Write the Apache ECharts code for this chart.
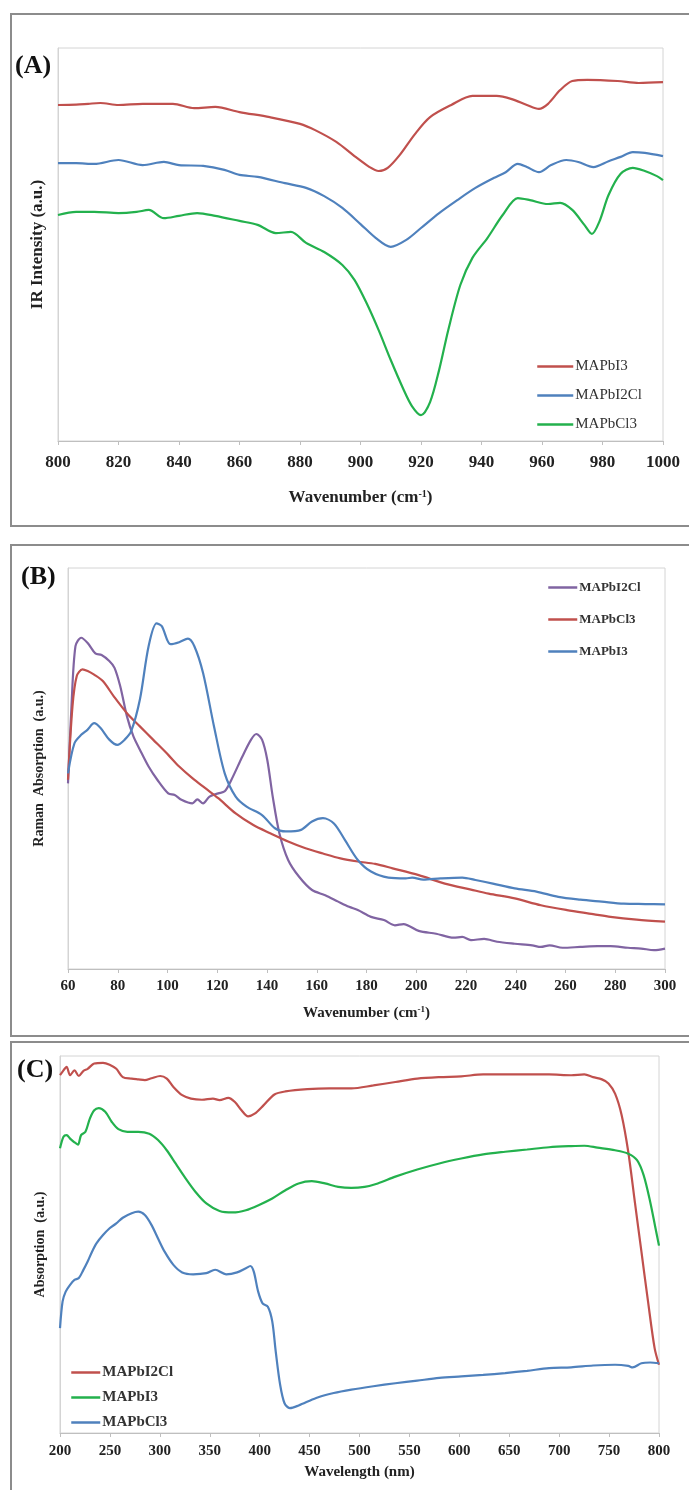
<!DOCTYPE html>
<html>
<head>
<meta charset="utf-8">
<script src="https://cdn.jsdelivr.net/npm/echarts@6/dist/echarts.min.js"></script>
<style>
  html, body { margin: 0; padding: 0; background: #fff; }
  #page { position: relative; width: 689px; height: 1490px; overflow: hidden; }
  .panel { position: absolute; left: 0; width: 689px; }
</style>
</head>
<body>
<div id="page">
  <div id="panelA" class="panel" style="top:0;height:530px"></div>
  <div id="panelB" class="panel" style="top:530px;height:510px"></div>
  <div id="panelC" class="panel" style="top:1040px;height:450px"></div>
</div>
<script>
// ---------- (A) IR spectra: [wavenumber cm-1, intensity a.u.] ----------
const irMAPbI3 = [
  [800,85.5],[806,85.6],[810,85.8],[814,86.0],[820,85.5],[828,85.8],[838,85.8],[845,84.7],
  [852,85.0],[860,83.7],[870,82.4],[880,80.7],[885,79.1],[892,76.1],[898,72.5],[903,69.7],
  [906,68.7],[909,69.5],[913,72.8],[918,78.1],[923,82.4],[930,85.5],[937,87.8],[945,87.8],
  [950,87.0],[955,85.5],[959,84.5],[962,85.8],[966,89.3],[970,91.6],[975,91.9],[985,91.6],
  [992,91.1],[1000,91.3]
];
const irMAPbI2Cl = [
  [800,70.7],[806,70.7],[812,70.5],[820,71.5],[828,70.2],[835,71.0],[840,70.2],[848,70.0],
  [855,69.0],[860,67.7],[866,67.2],[875,65.6],[882,64.4],[888,62.3],[894,59.3],[900,55.2],
  [905,51.7],[910,49.4],[915,51.1],[920,54.2],[926,58.0],[932,61.3],[938,64.4],[944,66.9],
  [948,68.4],[952,70.5],[955,69.7],[959,68.4],[963,70.2],[968,71.5],[972,71.0],[977,69.7],
  [982,71.2],[986,72.3],[990,73.5],[994,73.3],[1000,72.5]
];
const irMAPbCl3 = [
  [800,57.5],[806,58.3],[812,58.3],[820,58.0],[826,58.3],[830,58.8],[835,56.7],[840,57.3],
  [846,58.0],[852,57.3],[860,56.0],[866,55.0],[872,52.9],[877,53.2],[882,50.4],[888,48.1],
  [894,44.8],[898,41.0],[902,35.1],[906,28.2],[910,20.6],[914,13.5],[917,8.9],[920,6.6],
  [923,9.9],[926,18.1],[929,28.2],[933,39.7],[937,46.6],[942,51.7],[947,57.5],[952,61.8],
  [956,61.3],[962,60.3],[966,60.6],[970,58.8],[974,55.0],[976.5,52.7],[979,55.9],[982,62.6],
  [986,68.0],[990,69.5],[994,68.7],[998,67.4],[1000,66.4]
];

// ---------- (B) Raman spectra: [wavenumber cm-1, absorption a.u.] ----------
const ramanMAPbI2Cl = [
  [60,46.3],[61.4,65.5],[63,80.5],[65.3,82.6],[67.9,81.3],[71,78.7],[73.5,78.3],[76.6,76.8],
  [78.7,75.1],[81,70.5],[83.7,63.0],[86.3,58.0],[88.9,54.7],[92.4,50.5],[95.9,47.2],[100.3,43.8],
  [102.9,43.4],[105.6,42.2],[110,41.3],[112,42.3],[114.3,41.3],[116.9,43.0],[120.4,43.8],[123,44.3],
  [125.7,47.2],[130.1,53.0],[133.6,57.2],[135.7,58.6],[138,57.2],[140.1,52.2],[142.3,43.0],[145,33.8],
  [148.5,27.2],[152.9,23.0],[158.1,19.7],[163.4,18.4],[168.6,16.8],[173,15.5],[176.5,14.7],[181.8,13.0],
  [187,12.2],[191.4,10.9],[194.9,11.2],[201,9.5],[208,8.8],[215,7.8],[218.5,8.0],[222,7.2],
  [227.3,7.5],[232.5,6.8],[239.6,6.3],[246.6,5.9],[250.1,5.5],[253.6,5.9],[258.8,5.3],[265.9,5.5],
  [272.9,5.7],[278.1,5.7],[285.1,5.3],[290.4,5.1],[295.6,4.7],[300,5.1]
];
const ramanMAPbCl3 = [
  [60,47.2],[61.8,65.5],[63.5,73.0],[65.8,74.7],[67.9,74.3],[70.5,73.4],[74,71.8],[78.4,68.0],
  [83.7,63.8],[88.9,60.5],[94.2,57.2],[100.3,53.4],[104.7,50.5],[110,47.6],[115.2,45.1],[120.4,42.6],
  [127.4,38.8],[134.5,35.9],[141.5,33.8],[148.5,31.8],[155.5,30.1],[162.5,28.8],[169.5,27.6],[176.5,26.8],
  [183.5,26.2],[190.5,25.1],[201,23.4],[211.5,21.3],[222,19.8],[229.1,18.8],[239.6,17.6],[250.1,15.9],
  [260.6,14.7],[271.1,13.7],[278.1,13.0],[288.6,12.3],[300,11.8]
];
const ramanMAPbI3 = [
  [60,48.8],[62.6,56.3],[65.3,58.4],[67.9,59.7],[70.5,61.3],[73.1,60.1],[76.6,57.2],[79.8,55.9],
  [82.8,57.2],[85.4,59.3],[88.9,67.2],[92.4,80.5],[95.6,86.2],[97.7,85.5],[101.2,81.0],[104.7,81.5],
  [108.2,82.4],[110.8,80.5],[114.3,73.8],[118.7,60.5],[123,48.8],[127.4,43.0],[131.8,40.5],[138,38.4],
  [143.2,35.1],[147.6,34.3],[153.7,34.7],[158.1,36.8],[162.5,37.6],[166.9,36.3],[171.3,32.2],[176.5,27.2],
  [181.8,24.3],[188.8,22.8],[195.8,22.6],[198.4,22.8],[202.8,22.3],[209.8,22.6],[218.5,22.8],[223.8,22.2],
  [230.8,21.3],[239.6,20.1],[248.3,19.3],[257.1,18.0],[265.9,17.3],[274.6,16.8],[283.4,16.3],[292.1,16.2],
  [300,16.1]
];

// ---------- (C) UV-Vis absorption: [wavelength nm, absorption a.u.] ----------
const uvMAPbI2Cl = [
  [200,94.9],[203.5,96.2],[206.6,97.1],[210.1,94.9],[214.5,96.2],[218.9,94.7],[223.3,96.0],[227.7,96.6],
  [234.3,98.0],[243.1,98.2],[249.7,97.7],[256.4,96.6],[262.9,94.4],[271.8,94.0],[278.4,93.8],[285,93.6],
  [291.6,94.1],[300.4,94.7],[307,94.0],[313.6,91.8],[322.4,89.6],[331.2,88.7],[342.2,88.4],[353.2,88.7],
  [359.8,88.3],[368.6,88.9],[375.2,87.8],[381.8,85.6],[388.4,84.0],[395,84.7],[403.8,86.9],[414.8,89.8],
  [425.8,90.6],[447.8,91.2],[469.8,91.4],[491.9,91.4],[513.9,92.2],[535.9,93.1],[557.9,94.0],[579.9,94.4],
  [601.9,94.6],[623.9,95.1],[645.9,95.1],[667.9,95.1],[689.9,95.1],[712,94.9],[725.2,95.1],[734,94.4],
  [742.8,93.8],[749.4,92.7],[756,90.0],[762.6,84.3],[769.2,74.6],[775.8,61.3],[782.4,48.1],[789,34.9],
  [795.6,22.5],[800,18.1]
];
const uvMAPbI3 = [
  [200,75.5],[203.5,78.6],[206.6,79.0],[210.1,78.1],[214.5,77.1],[218,76.5],[221.1,79.0],[225.5,79.9],
  [229.9,83.4],[234.3,85.6],[238.7,86.2],[245.3,85.2],[251.9,82.5],[258.5,80.6],[267.4,79.9],[278.4,79.9],
  [289.4,79.4],[298.2,77.7],[306.9,75.0],[315.8,71.5],[324.6,68.0],[335.6,64.0],[346.6,60.9],[359.8,58.9],
  [373,58.5],[386.2,59.1],[399.4,60.5],[412.6,62.2],[425.8,64.4],[439,66.2],[452.2,66.8],[465.4,66.2],
  [478.7,65.3],[491.9,65.0],[505.1,65.3],[518.3,66.2],[535.9,68.0],[557.9,69.9],[579.9,71.5],[601.9,72.8],
  [623.9,73.9],[645.9,74.6],[667.9,75.2],[689.9,75.8],[712,76.1],[725.2,76.2],[738.4,75.7],[756,75.0],
  [769.2,74.1],[778,72.4],[784.6,68.4],[791.2,61.3],[796.5,54.3],[800,49.7]
];
const uvMAPbCl3 = [
  [200,27.8],[202.6,34.9],[205.7,37.5],[210.1,39.3],[214.5,40.6],[218.9,41.1],[223.3,43.2],[227.7,45.5],
  [232.1,48.1],[236.5,50.3],[243.1,52.5],[249.7,54.3],[256.4,55.6],[262.9,57.1],[271.8,58.3],[278.4,58.7],
  [285,57.8],[291.6,55.2],[298.2,51.6],[304.8,48.1],[313.6,44.6],[322.4,42.6],[333.4,42.1],[346.6,42.4],
  [355.4,43.3],[366.4,42.1],[377.4,42.6],[386.2,43.7],[390.6,44.3],[394.1,42.8],[398.5,37.5],[402.9,34.4],
  [408.2,33.5],[412.6,29.6],[416.1,21.6],[420.5,12.8],[424.9,7.9],[430.2,6.6],[439,7.3],[456.6,9.3],
  [474.2,10.6],[491.9,11.5],[513.9,12.4],[535.9,13.2],[557.9,13.9],[579.9,14.6],[601.9,15.0],[623.9,15.4],
  [645.9,15.9],[667.9,16.5],[689.9,17.2],[712,17.4],[734,17.9],[756,18.1],[769.2,17.8],[773.6,17.4],
  [782.4,18.5],[791.2,18.7],[800,18.5]
];

// Axis tick settings per panel
const irTicks = { min: 800, max: 1000, interval: 20 };
const ramanTicks = { min: 60, max: 300, interval: 20 };
const uvTicks = { min: 200, max: 800, interval: 50 };

const FONT = '"Liberation Serif", "Times New Roman", serif';
const RED = '#C0504D', BLUE = '#4F81BD', GREEN = '#23B14D', PURPLE = '#8064A2';

function lineSeries(name, data, color) {
  return {
    type: 'line', name: name, data: data, color: color,
    symbol: 'none', showSymbol: false, smooth: 0.3,
    lineStyle: { color: color, width: 2.2 }
  };
}

function xAxisCfg(ticks, name, fontSize, nameSize, margin, nameGap) {
  return {
    type: 'value', min: ticks.min, max: ticks.max, interval: ticks.interval,
    name: name, nameLocation: 'middle', nameGap: nameGap,
    nameTextStyle: {
      fontFamily: FONT, fontWeight: 'bold', fontSize: nameSize, color: '#222',
      rich: {
        t: { fontFamily: FONT, fontWeight: 'bold', fontSize: nameSize, color: '#222' },
        sup: { fontFamily: FONT, fontWeight: 'bold', fontSize: Math.round(nameSize * 0.6), color: '#222', padding: [0, 0, Math.round(nameSize * 0.45), 0] }
      }
    },
    axisLine: { show: true, lineStyle: { color: '#bfbfbf', width: 1 } },
    axisTick: { show: true, length: 4, lineStyle: { color: '#bfbfbf' } },
    axisLabel: {
      fontFamily: FONT, fontWeight: 'bold', fontSize: fontSize, color: '#222', margin: margin,
      formatter: function (v) { return String(v); }
    },
    splitLine: { show: false }
  };
}

function yAxisCfg(name, nameSize, nameGap) {
  return {
    type: 'value', min: 0, max: 100,
    name: name, nameLocation: 'middle', nameGap: nameGap, nameRotate: 90,
    nameTextStyle: { fontFamily: FONT, fontWeight: 'bold', fontSize: nameSize, color: '#222' },
    axisLine: { show: true, lineStyle: { color: '#d4d4d4' } },
    axisTick: { show: false }, axisLabel: { show: false }, splitLine: { show: false }
  };
}

function legendCfg(names, left, top, itemWidth, gap, fontSize, bold) {
  return {
    orient: 'vertical', left: left, top: top,
    itemWidth: itemWidth, itemHeight: 14, itemGap: gap,
    itemStyle: { opacity: 0 },
    lineStyle: { width: 2.5 },
    textStyle: { fontFamily: FONT, fontSize: fontSize, fontWeight: bold ? 'bold' : 'normal', color: '#333', padding: [0, 0, 0, -3] },
    data: names
  };
}

function frame(y, h) {
  return {
    type: 'rect', silent: true, z: -10,
    shape: { x: 11, y: y, width: 700, height: h },
    style: { fill: 'none', stroke: '#8c8c8c', lineWidth: 2 }
  };
}

function panelTitle(text, left, top) {
  return {
    text: text, left: left, top: top, padding: 0,
    textStyle: { fontFamily: FONT, fontWeight: 'bold', fontSize: 26, color: '#111' }
  };
}

// (A) IR
const chartA = echarts.init(document.getElementById('panelA'), null, { renderer: 'canvas' });
chartA.setOption({
  animation: false,
  title: panelTitle('(A)', 15, 53),
  graphic: [frame(14, 512)],
  grid: { left: 58, right: 26, top: 48, bottom: 89, show: true, borderColor: '#d4d4d4', borderWidth: 1 },
  xAxis: xAxisCfg(irTicks, '{t|Wavenumber (cm}{sup|-1}{t|)}', 17, 17, 13, 48),
  yAxis: yAxisCfg('IR Intensity (a.u.)', 17, 12),
  legend: legendCfg(['MAPbI3', 'MAPbI2Cl', 'MAPbCl3'], 531, 354, 36, 14, 15, false),
  series: [
    lineSeries('MAPbI3', irMAPbI3, RED),
    lineSeries('MAPbI2Cl', irMAPbI2Cl, BLUE),
    lineSeries('MAPbCl3', irMAPbCl3, GREEN)
  ]
});

// (B) Raman
const chartB = echarts.init(document.getElementById('panelB'), null, { renderer: 'canvas' });
chartB.setOption({
  animation: false,
  title: panelTitle('(B)', 21, 34),
  graphic: [frame(15, 491)],
  grid: { left: 68, right: 24, top: 38, bottom: 71, show: true, borderColor: '#d4d4d4', borderWidth: 1 },
  xAxis: xAxisCfg(ramanTicks, '{t|Wavenumber (cm}{sup|-1}{t|)}', 15, 15, 10, 36),
  yAxis: yAxisCfg('Raman  Absorption  (a.u.)', 14, 22),
  legend: legendCfg(['MAPbI2Cl', 'MAPbCl3', 'MAPbI3'], 542, 46, 29, 19, 13, true),
  series: [
    lineSeries('MAPbI2Cl', ramanMAPbI2Cl, PURPLE),
    lineSeries('MAPbCl3', ramanMAPbCl3, RED),
    lineSeries('MAPbI3', ramanMAPbI3, BLUE)
  ]
});

// (C) UV-Vis
const chartC = echarts.init(document.getElementById('panelC'), null, { renderer: 'canvas' });
chartC.setOption({
  animation: false,
  title: panelTitle('(C)', 17, 17),
  graphic: [frame(2, 460)],
  grid: { left: 60, right: 30, top: 16, bottom: 57, show: true, borderColor: '#d4d4d4', borderWidth: 1 },
  xAxis: xAxisCfg(uvTicks, 'Wavelength (nm)', 15, 15, 11, 32),
  yAxis: yAxisCfg('Absorption  (a.u.)', 14, 13),
  legend: legendCfg(['MAPbI2Cl', 'MAPbI3', 'MAPbCl3'], 65, 320, 29, 10, 15, true),
  series: [
    lineSeries('MAPbI2Cl', uvMAPbI2Cl, RED),
    lineSeries('MAPbI3', uvMAPbI3, GREEN),
    lineSeries('MAPbCl3', uvMAPbCl3, BLUE)
  ]
});
</script>
</body>
</html>
